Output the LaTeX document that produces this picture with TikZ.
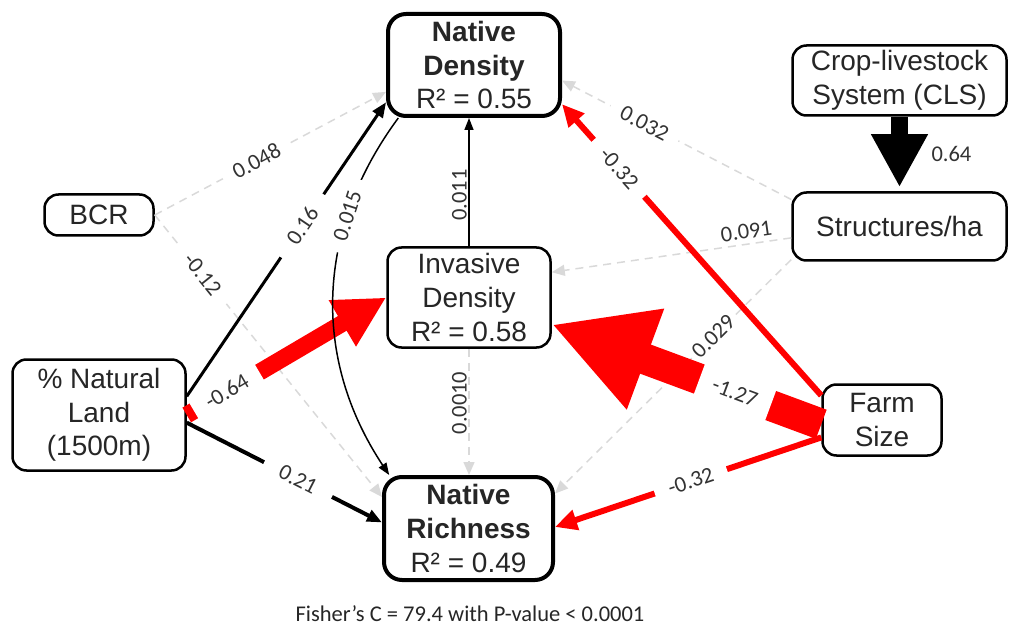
\documentclass[tikz,border=0pt]{standalone}
\usepackage{fontspec}
\setmainfont{Liberation Sans}
\newfontfamily\calfont{Carlito}
\usetikzlibrary{arrows.meta}

\tikzset{
  varbox/.style={draw=black, line width=2.5pt, rounded corners=14pt, fill=white, align=center, inner sep=0pt, text=black!85, font=\fontsize{28}{33.6}\selectfont},
  respbox/.style={varbox, line width=4pt, rounded corners=18pt},
  coef/.style={font=\calfont\fontsize{22.5}{26}\selectfont, text=black!80, inner sep=1.5pt},
  coefw/.style={coef, fill=white, minimum width=76pt, minimum height=20pt},
  nspath/.style={draw=black!15, line width=1.5pt, dash pattern=on 8pt off 6pt, -{Triangle[length=13pt,width=11pt]}},
  thinpath/.style={draw=black, line width=1.5pt, -{Triangle[length=12pt,width=9pt]}},
  pospath/.style={draw=black, -{Triangle[length=15pt,width=12pt]}},
  bigpos/.style={draw=black, line width=17pt, -{Triangle[length=53pt,width=53pt]}},
  negpath/.style={draw=red, line width=6pt, -{Triangle[length=22pt,width=20pt]}}
}

\begin{document}
\begin{tikzpicture}[x=1pt, y=-1pt]
\useasboundingbox (0,0) rectangle (1009,628);

\node (ND) at (474, 65) [respbox, minimum width=172pt, minimum height=102pt] {\textbf{Native}\\\textbf{Density}\\R² = 0.55};
\node (ID) at (469, 297.5) [varbox, minimum width=163pt, minimum height=100pt] {Invasive\\Density\\R² = 0.58};
\node (NR) at (468.5, 528.5) [respbox, minimum width=169pt, minimum height=103pt] {\textbf{Native}\\\textbf{Richness}\\R² = 0.49};
\node (BCR) at (99, 215) [varbox, minimum width=109pt, minimum height=41pt] {BCR};
\node (NL) at (99, 415) [varbox, minimum width=173pt, minimum height=111pt] {\% Natural\\Land\\(1500m)};
\node (CLS) at (899.5, 80.5) [varbox, minimum width=214pt, minimum height=70pt] {Crop-livestock\\System (CLS)};
\node (SH) at (899.5, 226.5) [varbox, minimum width=214pt, minimum height=68pt] {Structures/ha};
\node (FS) at (882, 420) [varbox, minimum width=119pt, minimum height=71pt] {Farm\\Size};

\draw[nspath] (BCR.east) to node[coefw, sloped, pos=0.44] {0.048} (ND.197);
\draw[nspath] (BCR.east) to node[coefw, sloped, pos=0.21] {-0.12} (NR.160);
\draw[nspath] (ID.south) to node[coef, rotate=90, anchor=south, pos=0.43] {0.0010} (ID.south |- NR.north);
\draw[nspath] (SH.166) to node[coefw, sloped, pos=0.64] {0.032} (ND.-10);
\draw[nspath] (SH.186) to node[coef, sloped, above=3pt, pos=0.18] {0.091} (ID.17);
\draw[nspath] (SH.197) to node[coef, fill=white, sloped, pos=0.33] {0.029} (NR.22);

\draw[negpath] (FS.158) to node[coefw, sloped, pos=0.78] {-0.32} (ND.-24);
\draw[negpath] (FS.196) to node[coefw, sloped, pos=0.49] {-0.32} (NR.1);
\draw[red, line width=17pt, -{Triangle[length=51pt,width=50pt]}] (NL.east) to node[coefw, sloped, pos=0.2, minimum height=24pt] {-0.64} (ID.west);
\draw[red, line width=31pt, -{Triangle[length=100pt,width=100pt]}] (FS.184) to node[coefw, sloped, pos=0.32, minimum height=36pt] {-1.27} (ID.-18);

\draw[thinpath] (ID.north) to node[coef, rotate=90, anchor=south, pos=0.4] {0.011} (ID.north |- ND.south);
\draw[thinpath] (ND.215) to[bend right=35] node[coefw, sloped, pos=0.28] {0.015} (NR.146);
\draw[pospath, line width=3pt] (NL.12) to node[coefw, sloped, pos=0.58] {0.16} (ND.203);
\draw[pospath, line width=4pt] (NL.-5) to node[coefw, sloped, pos=0.57] {0.21} (NR.176);
\draw[bigpos, shorten >=4pt] (CLS.south) to node[coef, right, xshift=22pt] {0.64} (SH.north);

\node (fisher) at (470, 614) [inner sep=0pt, font=\calfont\fontsize{22.5}{26}\selectfont, text=black!85] {Fisher’s C = 79.4 with P-value < 0.0001};
\end{tikzpicture}
\end{document}
